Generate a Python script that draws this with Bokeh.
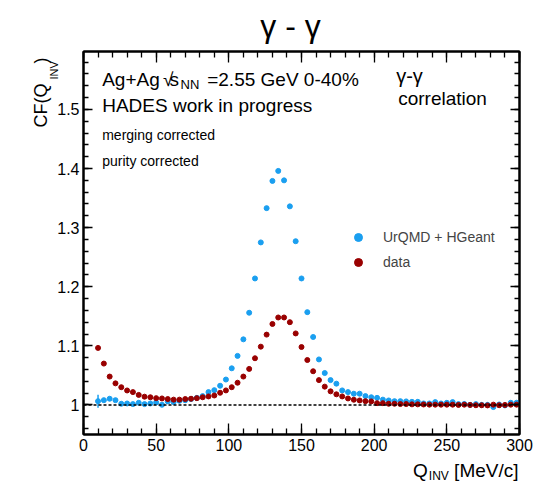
import math
from bokeh.plotting import figure
from bokeh.models import (Range1d, SingleIntervalTicker, LinearAxis, Label, Span,
                          ColumnDataSource, CustomJSTickFormatter, Legend, LegendItem)
from bokeh.embed import file_html
from bokeh.resources import INLINE

# ---------------- data ----------------
q_inv = [10, 14, 18, 22, 26, 30, 34, 38, 42, 46, 50, 54, 58, 62, 66, 70, 74, 78, 82, 86,
         90, 94, 98, 102, 106, 110, 114, 118, 122, 126, 130, 134, 138, 142, 146, 150, 154,
         158, 162, 166, 170, 174, 178, 182, 186, 190, 194, 198, 202, 206, 210, 214, 218,
         222, 226, 230, 234, 238, 242, 246, 250, 254, 258, 262, 266, 270, 274, 278, 282,
         286, 290, 294, 298]

cf_urqmd = [1.0064, 1.0081, 1.0105, 1.0081, 1.0020, 1.0025, 1.0014, 1.0037, 1.0014, 1.0025,
            1.0042, 1.0003, 1.0060, 1.0048, 1.0070, 1.0080, 1.0100, 1.0120, 1.0150, 1.0217,
            1.0250, 1.0325, 1.0430, 1.0620, 1.0830, 1.1110, 1.1560, 1.2140, 1.2750, 1.3330,
            1.3790, 1.3960, 1.3800, 1.3360, 1.2770, 1.2140, 1.1570, 1.1150, 1.0770, 1.0540,
            1.0420, 1.0360, 1.0246, 1.0217, 1.0190, 1.0190, 1.0150, 1.0130, 1.0120, 1.0090,
            1.0076, 1.0064, 1.0064, 1.0060, 1.0053, 1.0053, 1.0025, 1.0025, 1.0048, 1.0025,
            1.0036, 1.0048, 1.0014, 1.0017, 1.0002, 1.0014, 1.0002, 1.0002, 0.9964, 1.0008,
            0.9992, 1.0037, 1.0037]

cf_urqmd_err = [0.011, 0.003, 0.002, 0.002, 0.002, 0.002, 0.002, 0.002, 0.002, 0.002,
                0.002, 0.002, 0.002, 0.002, 0.002, 0.002, 0.002, 0.002, 0.002, 0.002,
                0.002, 0.002, 0.002, 0.002, 0.002, 0.002, 0.002, 0.002, 0.002, 0.002,
                0.002, 0.002, 0.002, 0.002, 0.002, 0.002, 0.002, 0.002, 0.002, 0.002,
                0.002, 0.002, 0.002, 0.002, 0.002, 0.002, 0.002, 0.002, 0.002, 0.002,
                0.002, 0.002, 0.002, 0.002, 0.002, 0.002, 0.002, 0.002, 0.002, 0.002,
                0.002, 0.002, 0.002, 0.002, 0.002, 0.002, 0.002, 0.002, 0.002, 0.002,
                0.002, 0.002, 0.002]

cf_data = [1.0965, 1.0700, 1.0480, 1.0365, 1.0300, 1.0245, 1.0217, 1.0170, 1.0140, 1.0130,
           1.0115, 1.0110, 1.0100, 1.0090, 1.0090, 1.0100, 1.0105, 1.0115, 1.0130, 1.0144,
           1.0160, 1.0206, 1.0246, 1.0300, 1.0376, 1.0480, 1.0610, 1.0790, 1.0986, 1.1190,
           1.1370, 1.1480, 1.1480, 1.1400, 1.1210, 1.0980, 1.0760, 1.0570, 1.0420, 1.0310,
           1.0230, 1.0180, 1.0144, 1.0110, 1.0088, 1.0076, 1.0064, 1.0060, 1.0030, 1.0030,
           1.0020, 1.0020, 1.0015, 1.0015, 1.0010, 1.0010, 1.0008, 1.0005, 1.0005, 1.0005,
           1.0005, 1.0005, 1.0000, 1.0005, 1.0000, 0.9995, 0.9995, 0.9992, 1.0005, 0.9995,
           1.0000, 1.0005, 1.0005]

series_labels = ["UrQMD + HGeant", "data"]
x_ticks_interval = 50
y_ticks_interval = 0.1

BLUE = "#1a9ff0"
RED = "#990000"
FONT = "Liberation Sans"
NB = "\u00a0"

src = ColumnDataSource(dict(
    q=q_inv, sim=cf_urqmd, dat=cf_data,
    lo=[v - e for v, e in zip(cf_urqmd, cf_urqmd_err)],
    hi=[v + e for v, e in zip(cf_urqmd, cf_urqmd_err)],
))

p = figure(width=558, height=484, x_range=Range1d(0, 300), y_range=Range1d(0.95, 1.598),
           output_backend="svg", toolbar_location=None, title_location=None,
           x_axis_type=None, y_axis_type=None,
           min_border_left=83, min_border_right=39, min_border_top=51, min_border_bottom=50)
p.outline_line_color = "black"
p.outline_line_width = 2
p.background_fill_color = "white"
p.border_fill_color = "white"

xfmt = CustomJSTickFormatter(code="return tick.toFixed(0);")
yfmt = CustomJSTickFormatter(code="return Number(tick.toFixed(2)).toString();")
blank = CustomJSTickFormatter(code="return '';")


def style(ax, tin, tmin, show, fmt):
    ax.major_tick_in = tin
    ax.major_tick_out = 0
    ax.minor_tick_in = tmin
    ax.minor_tick_out = 0
    ax.axis_line_width = 2
    ax.axis_line_color = "black"
    ax.major_tick_line_width = 1.3
    ax.minor_tick_line_width = 1.3
    ax.major_tick_line_color = "black"
    ax.minor_tick_line_color = "black"
    ax.major_label_text_font = FONT
    ax.major_label_text_color = "black"
    if show:
        ax.major_label_text_font_size = "16px"
        ax.major_label_standoff = 4
        ax.formatter = fmt
    else:
        ax.major_label_text_font_size = "0px"
        ax.major_label_standoff = 0
        ax.formatter = blank


for loc in ["below", "above"]:
    ax = LinearAxis(ticker=SingleIntervalTicker(interval=x_ticks_interval, num_minor_ticks=5))
    style(ax, 11, 6, loc == "below", xfmt)
    p.add_layout(ax, loc)
for loc in ["left", "right"]:
    ax = LinearAxis(ticker=SingleIntervalTicker(interval=y_ticks_interval, num_minor_ticks=5))
    style(ax, 9, 5, loc == "left", yfmt)
    p.add_layout(ax, loc)

p.add_layout(Span(location=1.0, dimension="width", line_color="black",
                  line_dash="3 2", line_width=1.5))

p.segment(x0="q", y0="lo", x1="q", y1="hi", source=src, line_color=BLUE, line_width=1.5)
r_sim = p.scatter("q", "sim", source=src, size=5, fill_color=BLUE, line_color=BLUE)
r_dat = p.scatter("q", "dat", source=src, size=5, fill_color=RED, line_color=RED)

leg = Legend(items=[LegendItem(label=series_labels[0], renderers=[r_sim]),
                    LegendItem(label=series_labels[1], renderers=[r_dat])],
             location=(265, 162), padding=0, margin=0, border_line_color=None,
             background_fill_alpha=0, label_text_font=FONT, label_text_font_size="14px",
             glyph_width=20, glyph_height=20, label_height=20, label_standoff=15, spacing=5)
p.add_layout(leg)

DY = 7  # vertical correction for horizontal labels


def lab(text, x, y, size, align="left", angle=0.0, place="center"):
    p.add_layout(Label(x=x, y=y + (DY if angle == 0 else 0), x_units="screen", y_units="screen",
                       text=text, text_font=FONT, text_font_size=f"{size}px",
                       text_align=align, text_baseline="alphabetic", angle=angle,
                       text_color="black"), place)


# text block inside the frame (positions relative to frame)
lab("Ag+Ag", 18.7, 348, 19)
lab("√", 79.5, 348, 19)
lab("s", 86, 348, 19)
lab("NN", 97, 343, 13)
lab("=2.55 GeV 0-40%", 123.7, 348, 19)
lab("HADES work in progress", 18.7, 322.3, 19)
lab("merging corrected", 18.7, 293, 14)
lab("purity corrected", 18.7, 266.7, 14)
lab("γ-γ", 312.7, 352, 20)
lab("correlation", 314.7, 329, 19)

# texts outside the frame, each in a side panel (positions relative to its panel slot)
lab("γ - γ", 207, 19, 32, "center", 0.0, "above")
lab("Q" + NB * 5 + "[MeV/c]", 435, -3, 19, "right", 0.0, "below")
lab("INV", -70.7, -48, 12, "right", 0.0, "right")
lab("INV", -486, 355, 11, "left", math.pi / 2, "right")
lab("CF(Q" + NB * 4 + ")", 6, 307, 18, "left", math.pi / 2, "left")

open("out.html", "w").write(file_html(p, INLINE))
